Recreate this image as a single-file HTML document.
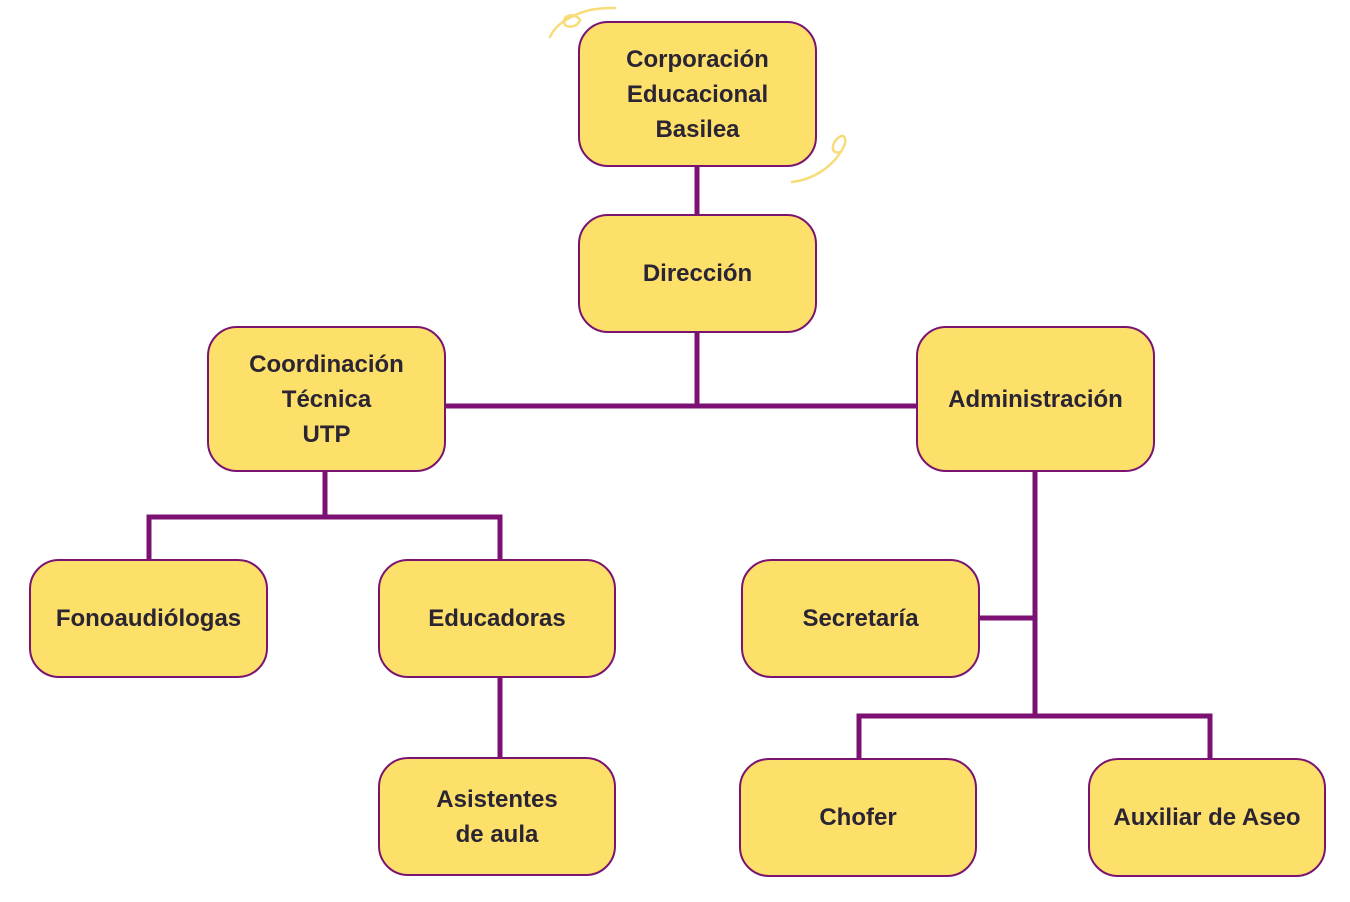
<!DOCTYPE html>
<html><head><meta charset="utf-8"><style>
html,body{margin:0;padding:0;background:#fff;}
body{width:1350px;height:902px;position:relative;overflow:hidden;font-family:"Liberation Sans",sans-serif;}
.b{position:absolute;box-sizing:border-box;background:#FDE06A;border:2.5px solid #7B1470;border-radius:30px;display:flex;align-items:center;justify-content:center;text-align:center;color:#2B2433;font-size:24px;line-height:35px;font-weight:bold;}
svg{position:absolute;left:0;top:0;}
</style></head><body>
<svg width="1350" height="902">
<g stroke="#7D1173" stroke-width="5" fill="none">
<line x1="697" y1="167" x2="697" y2="214"/>
<line x1="697" y1="333" x2="697" y2="406"/>
<line x1="446" y1="406" x2="916" y2="406"/>
<polyline points="325,472 325,517"/>
<polyline points="149,559 149,517 500,517 500,559"/>
<line x1="500" y1="678" x2="500" y2="757"/>
<line x1="1035" y1="472" x2="1035" y2="716"/>
<line x1="980" y1="618" x2="1035" y2="618"/>
<polyline points="859,758 859,716 1210,716 1210,758"/>
</g>
<g stroke="#F7DC7A" stroke-width="2.5" fill="none" stroke-linecap="round">
<path d="M550,37 C555,25 570,15 590,10 C600,8 610,8 615,8"/>
<path d="M565,25 C560,15 575,12 580,20 C578,27 568,28 565,25"/>
<path d="M792,182 C810,180 830,170 842,150 C848,140 845,132 838,138 C830,145 832,155 840,152"/>
</g>
</svg>
<div class="b" style="left:578px;top:21px;width:239px;height:146px;">Corporación<br>Educacional<br>Basilea</div>
<div class="b" style="left:578px;top:214px;width:239px;height:119px;">Dirección</div>
<div class="b" style="left:207px;top:326px;width:239px;height:146px;">Coordinación<br>Técnica<br>UTP</div>
<div class="b" style="left:916px;top:326px;width:239px;height:146px;">Administración</div>
<div class="b" style="left:29px;top:559px;width:239px;height:119px;">Fonoaudiólogas</div>
<div class="b" style="left:378px;top:559px;width:238px;height:119px;">Educadoras</div>
<div class="b" style="left:741px;top:559px;width:239px;height:119px;">Secretaría</div>
<div class="b" style="left:378px;top:757px;width:238px;height:119px;">Asistentes<br>de aula</div>
<div class="b" style="left:739px;top:758px;width:238px;height:119px;">Chofer</div>
<div class="b" style="left:1088px;top:758px;width:238px;height:119px;">Auxiliar de Aseo</div>
</body></html>
